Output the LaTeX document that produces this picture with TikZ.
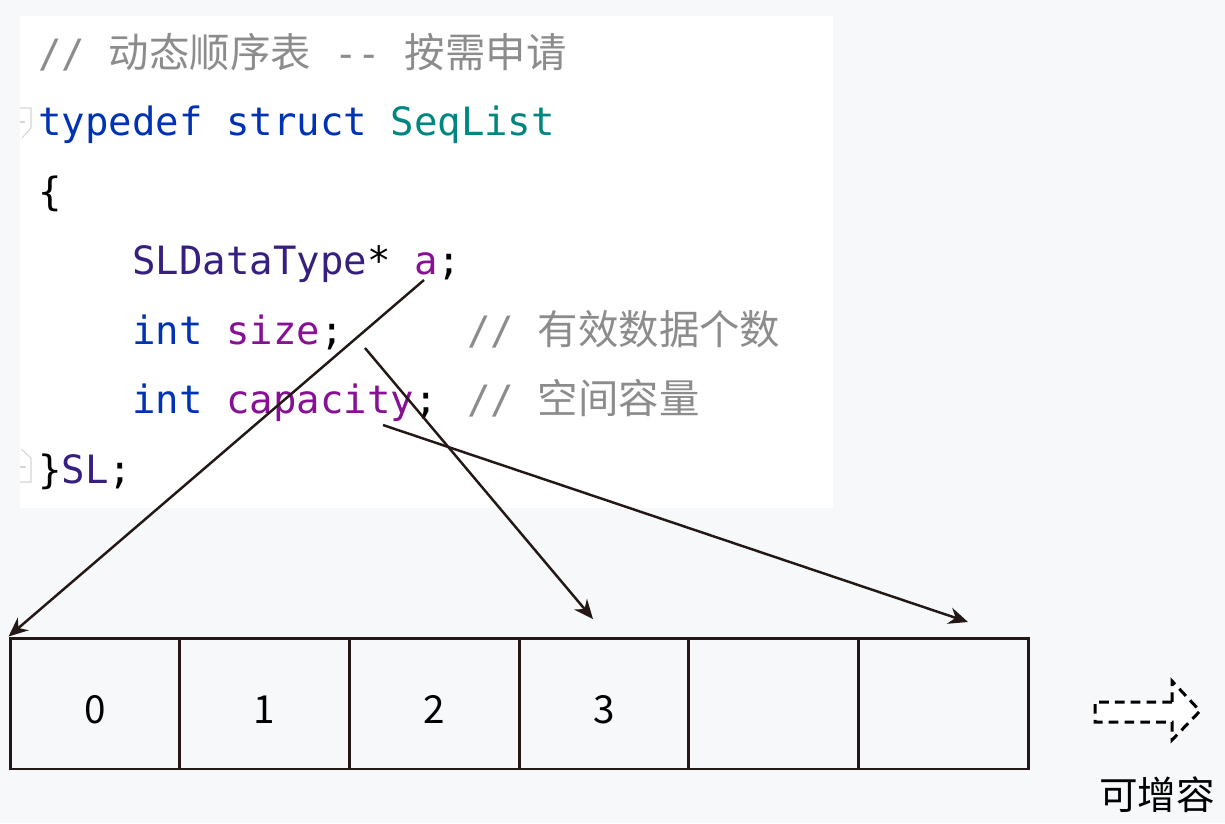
\documentclass[tikz,border=0pt]{standalone}
\usepackage{fontspec}
\newfontfamily\codefont{DejaVu Sans Mono}
\newfontfamily\cjk{Noto Sans CJK SC}
\usetikzlibrary{arrows.meta}
\definecolor{bg}{RGB}{247,248,250}
\definecolor{cgray}{RGB}{140,140,140}
\definecolor{ckw}{RGB}{0,51,179}
\definecolor{cteal}{RGB}{0,134,128}
\definecolor{ctype}{RGB}{55,31,128}
\definecolor{cfield}{RGB}{135,16,148}
\definecolor{arrowc}{RGB}{35,24,21}
\definecolor{iconc}{RGB}{214,214,214}
\newcommand\cjkc{\cjk\fontsize{23pt}{26pt}\selectfont}
\begin{document}
\begin{tikzpicture}[x=0.02cm,y=-0.02cm,
  code/.style={anchor=base west, inner sep=0pt, font=\codefont\fontsize{22.2pt}{26pt}\selectfont},
  ptr/.style={draw=arrowc, line width=1.4pt, -{Stealth[length=11pt,width=9.5pt]}},
  cell/.style={draw=arrowc, line width=1.7pt, minimum width=3.394cm, minimum height=2.62cm,
    inner sep=0pt, text height=0.78cm, text depth=0cm, font=\cjk\fontsize{22pt}{26pt}\selectfont},
  fold/.style={draw=iconc, line width=0.6pt}
]
\useasboundingbox[fill=bg] (0,0) rectangle (1225,823);
\fill[white] (20,16) rectangle (833,508);

% fold icons
\draw[fold] (20,108) -- (31,108) -- (31,128) -- (22,138);
\draw[fold] (20,122) -- (25,122);
\draw[fold] (21,449) -- (31,458) -- (31,482) -- (20,482);
\draw[fold] (20,467) -- (26,467);

% code lines
\node[code, text=cgray] (l1) at (38,67) {// {\cjkc 动态顺序表} -- {\cjkc 按需申请}};
\node[code] (l2) at (38,135) {\textcolor{ckw}{typedef struct} \textcolor{cteal}{SeqList}};
\node[code] (l3) at (38,205) {\{};
\node[code] (l4) at (132,274) {\textcolor{ctype}{SLDataType}* \textcolor{cfield}{a};};
\node[code] (l5) at (132,344) {\textcolor{ckw}{int} \textcolor{cfield}{size};};
\node[code, text=cgray] (k5) at (467,344) {// {\cjkc 有效数据个数}};
\node[code] (l6) at (132,413) {\textcolor{ckw}{int} \textcolor{cfield}{capacity};};
\node[code, text=cgray] (k6) at (467,413) {// {\cjkc 空间容量}};
\node[code] (l7) at (38,483) {\}\textcolor{ctype}{SL};};

% array cells
\node[cell] (c0) at (94.85,703.5) {0};
\node[cell] (c1) at (264.55,703.5) {1};
\node[cell] (c2) at (434.25,703.5) {2};
\node[cell] (c3) at (603.95,703.5) {3};
\node[cell] (c4) at (773.65,703.5) {};
\node[cell] (c5) at (943.35,703.5) {};

% pointers
\coordinate (pa) at (424,280);
\coordinate (ps) at (365,348);
\coordinate (pc) at (383,425);
\coordinate (ts) at (593,619);
\coordinate (tc) at (968,622);
\draw[ptr] (pa) -- (c0.north west);
\draw[ptr] (ps) -- (ts);
\draw[ptr] (pc) -- (tc);

% growable arrow
\draw[fill=white, draw=black, line width=1.7pt, dash pattern=on 5.5pt off 3.5pt]
  (1172,702) -- (1095,702) -- (1095,722) -- (1172,722) -- (1172,740)
  -- (1200,711) -- (1172,681) -- cycle;
\node[inner sep=0pt, font=\cjk\fontsize{22pt}{26pt}\selectfont] (grow) at (1157,795) {可增容};
\end{tikzpicture}
\end{document}
